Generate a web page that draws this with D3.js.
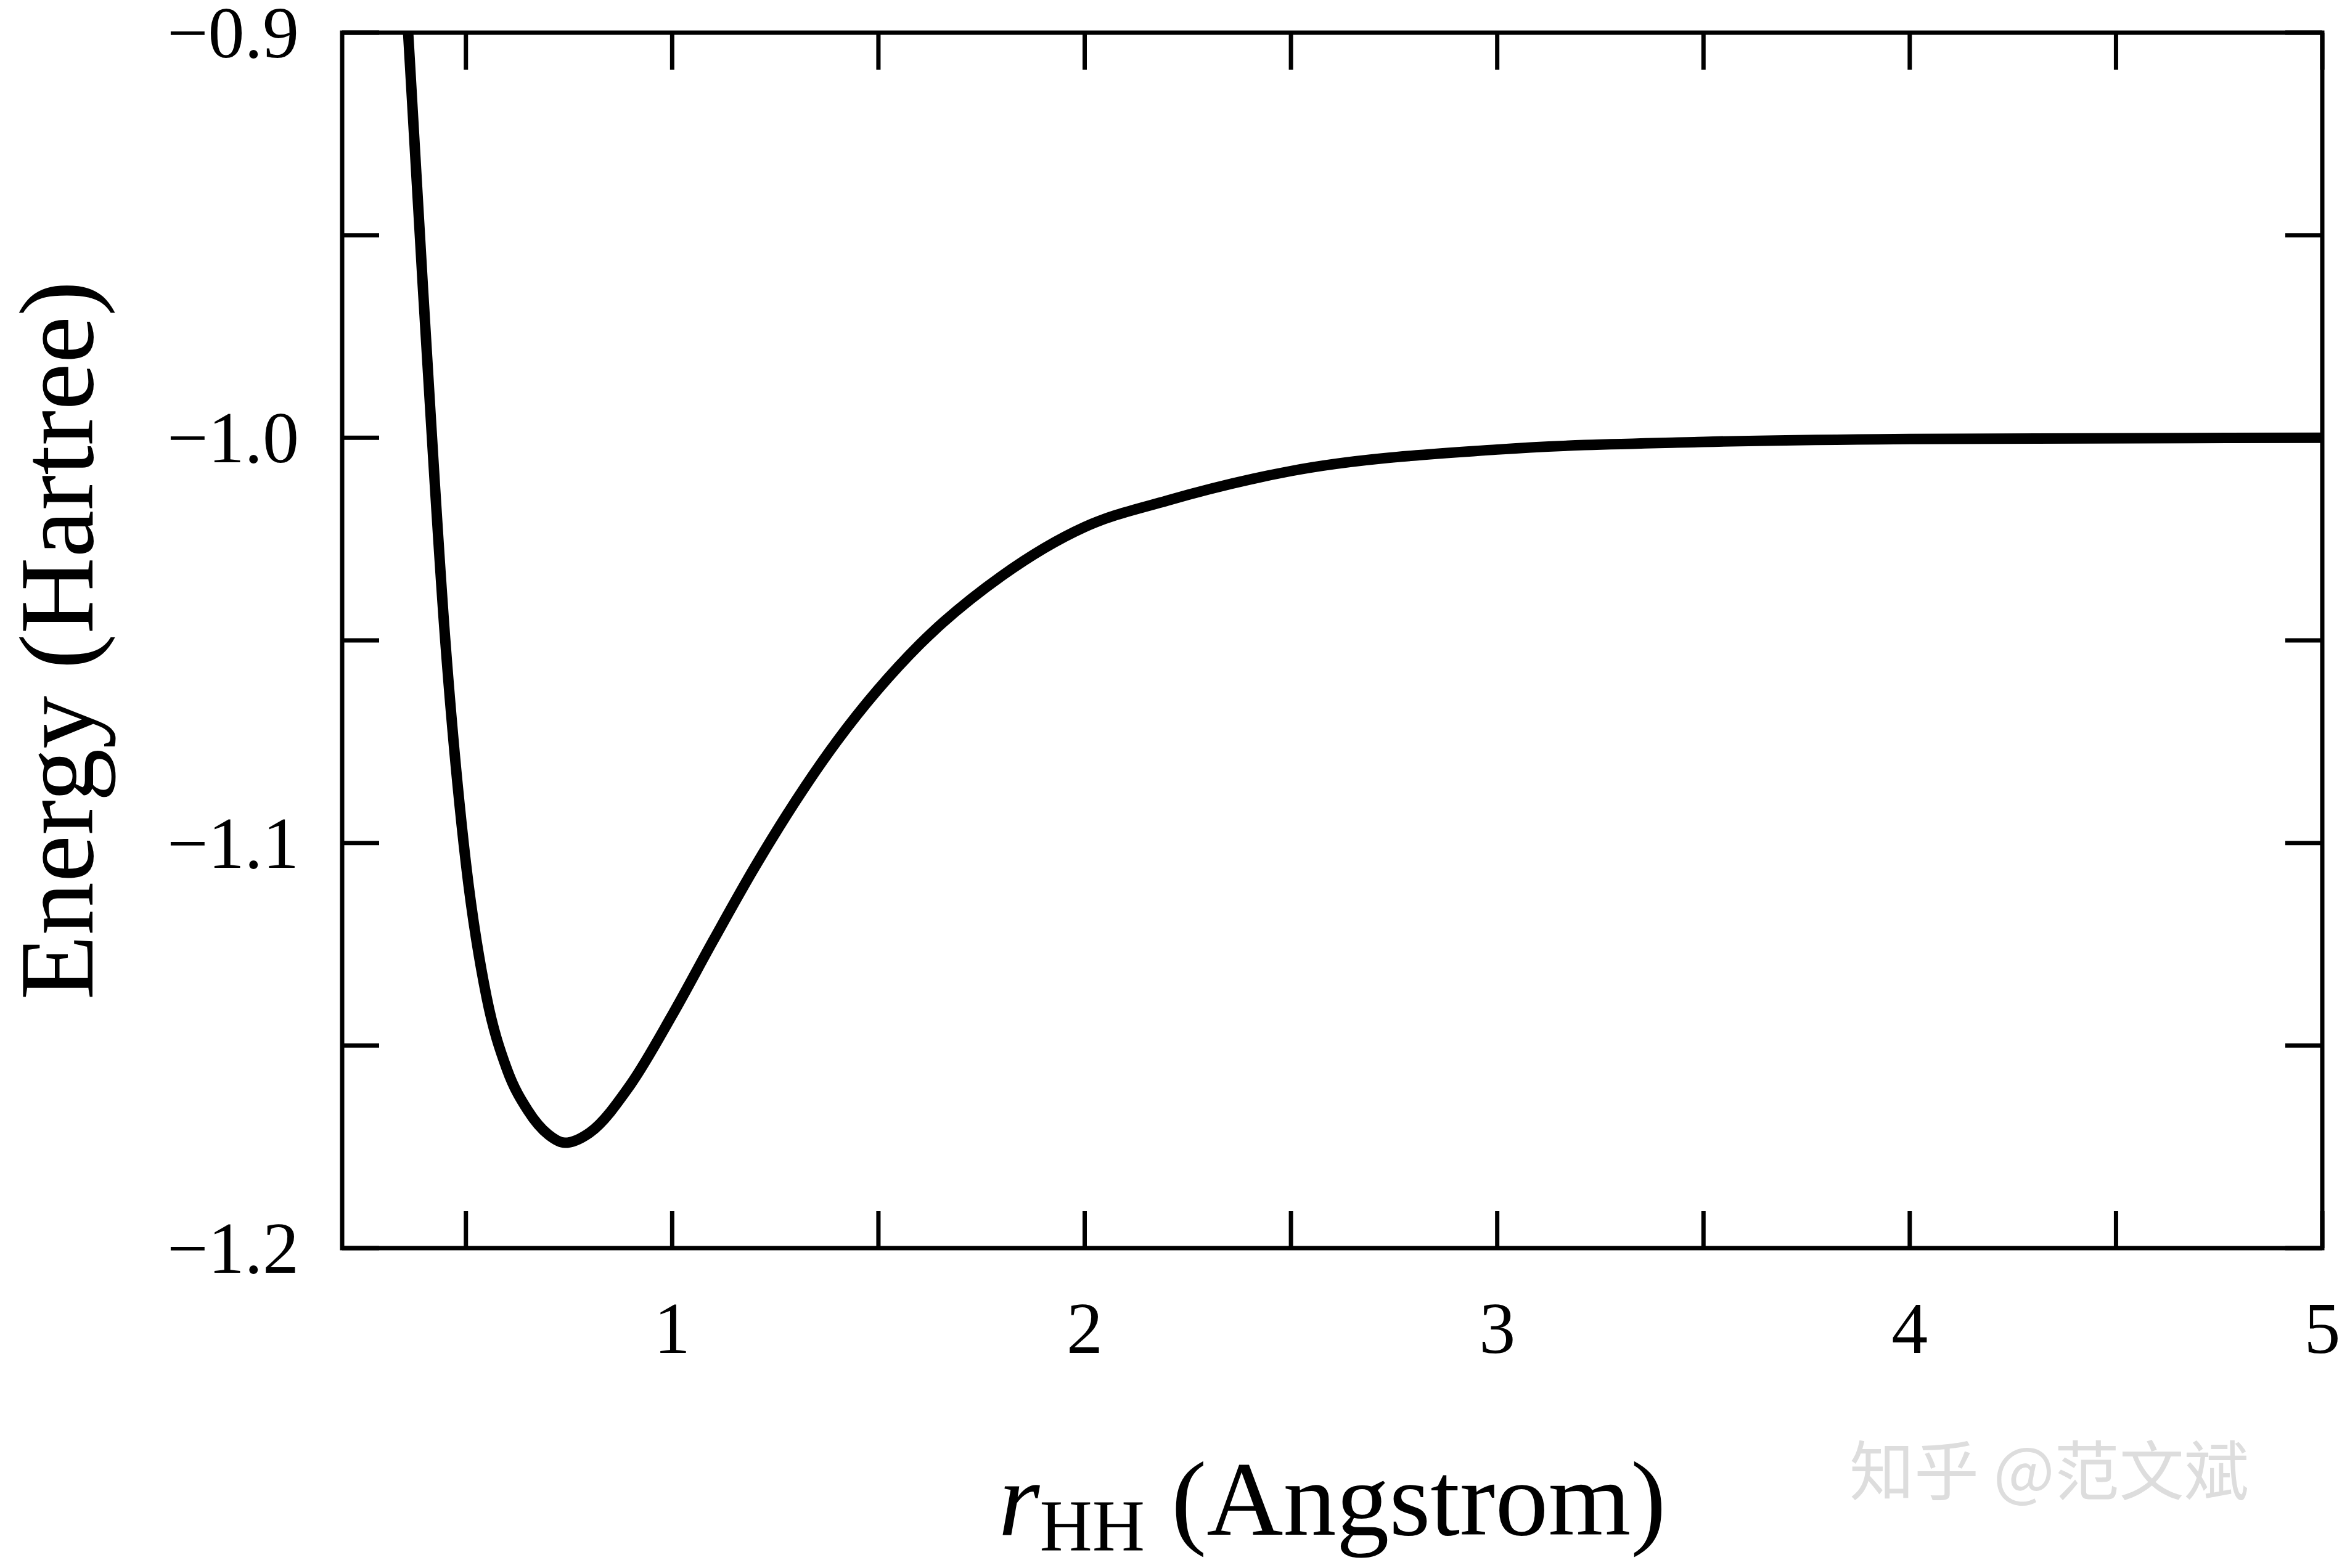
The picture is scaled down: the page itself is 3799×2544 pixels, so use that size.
<!DOCTYPE html>
<html><head><meta charset="utf-8">
<script src="https://cdn.jsdelivr.net/npm/d3@7"></script>
<style>body{margin:0;background:#fff}</style></head>
<body><svg id="c" width="3799" height="2544"></svg>
<script>
const rValues=[0.34,0.36,0.40,0.45,0.50,0.55,0.60,0.65,0.70,0.74,0.80,0.90,1.0,1.1,1.2,1.4,1.6,1.8,2.0,2.2,2.5,3.0,3.5,4.0,5.0];
const eValues=[-0.86,-0.9,-0.97,-1.05,-1.105,-1.138,-1.156,-1.166,-1.172,-1.174,-1.1715,-1.1595,-1.1425,-1.124,-1.106,-1.0748,-1.051,-1.034,-1.022,-1.0155,-1.0082,-1.0029,-1.001,-1.0003,-1.0];
const xTicks=[1,2,3,4,5], yTicks=[-0.9,-1.0,-1.1,-1.2];
const xMinor=[0.5,1.5,2.5,3.5,4.5], yMinor=[-0.95,-1.05,-1.15];
const L=555,R=3767,T=53,B=2025;
const svg=d3.select("#c");
const x=d3.scaleLinear().domain([0.2,5]).range([L,R]);
const y=d3.scaleLinear().domain([-1.2,-0.9]).range([B,T]);
const font="Liberation Serif, Times New Roman, serif";
svg.append("clipPath").attr("id","cp").append("rect").attr("x",L).attr("y",T).attr("width",R-L).attr("height",B-T);
const data=rValues.map((r,i)=>[r,eValues[i]]);
svg.append("path").datum(data).attr("clip-path","url(#cp)").attr("fill","none").attr("stroke","#000").attr("stroke-width",17).attr("stroke-linejoin","round")
 .attr("d",d3.line().x(d=>x(d[0])).y(d=>y(d[1])).curve(d3.curveMonotoneX));
const g=svg.append("g").attr("stroke","#000").attr("stroke-width",7);
const tl=60, tm=60;
xTicks.concat(xMinor).forEach(v=>{g.append("line").attr("x1",x(v)).attr("x2",x(v)).attr("y1",B).attr("y2",B-tl);g.append("line").attr("x1",x(v)).attr("x2",x(v)).attr("y1",T).attr("y2",T+tl);});
yTicks.concat(yMinor).forEach(v=>{g.append("line").attr("y1",y(v)).attr("y2",y(v)).attr("x1",L).attr("x2",L+tm);g.append("line").attr("y1",y(v)).attr("y2",y(v)).attr("x1",R).attr("x2",R-tm);});
svg.append("rect").attr("x",L).attr("y",T).attr("width",R-L).attr("height",B-T).attr("fill","none").attr("stroke","#000").attr("stroke-width",7);
xTicks.forEach(v=>svg.append("text").attr("x",x(v)).attr("y",B+170).attr("text-anchor","middle").attr("font-family",font).attr("font-size",118).text(v));
yTicks.forEach(v=>svg.append("text").attr("x",L-70).attr("y",y(v)+40).attr("text-anchor","end").attr("font-family",font).attr("font-size",118).text(d3.format(".1f")(v).replace("-","−")));
svg.append("text").attr("transform",`translate(150,${(T+B)/2}) rotate(-90)`).attr("text-anchor","middle").attr("font-family",font).attr("font-size",172).text("Energy (Hartree)");
const xl=svg.append("text").attr("x",(L+R)/2).attr("y",2490).attr("text-anchor","middle").attr("font-family",font).attr("font-size",172);
xl.append("tspan").attr("font-style","italic").text("r");
xl.append("tspan").attr("font-size",118).attr("dy",25).text("HH");
xl.append("tspan").attr("dy",-25).text(" (Angstrom)");
svg.append("text").attr("x",3000).attr("y",2425).attr("font-family","Noto Sans CJK SC").attr("font-size",105).attr("fill","#ddd").text("知乎 @范文斌");
</script></body></html>
